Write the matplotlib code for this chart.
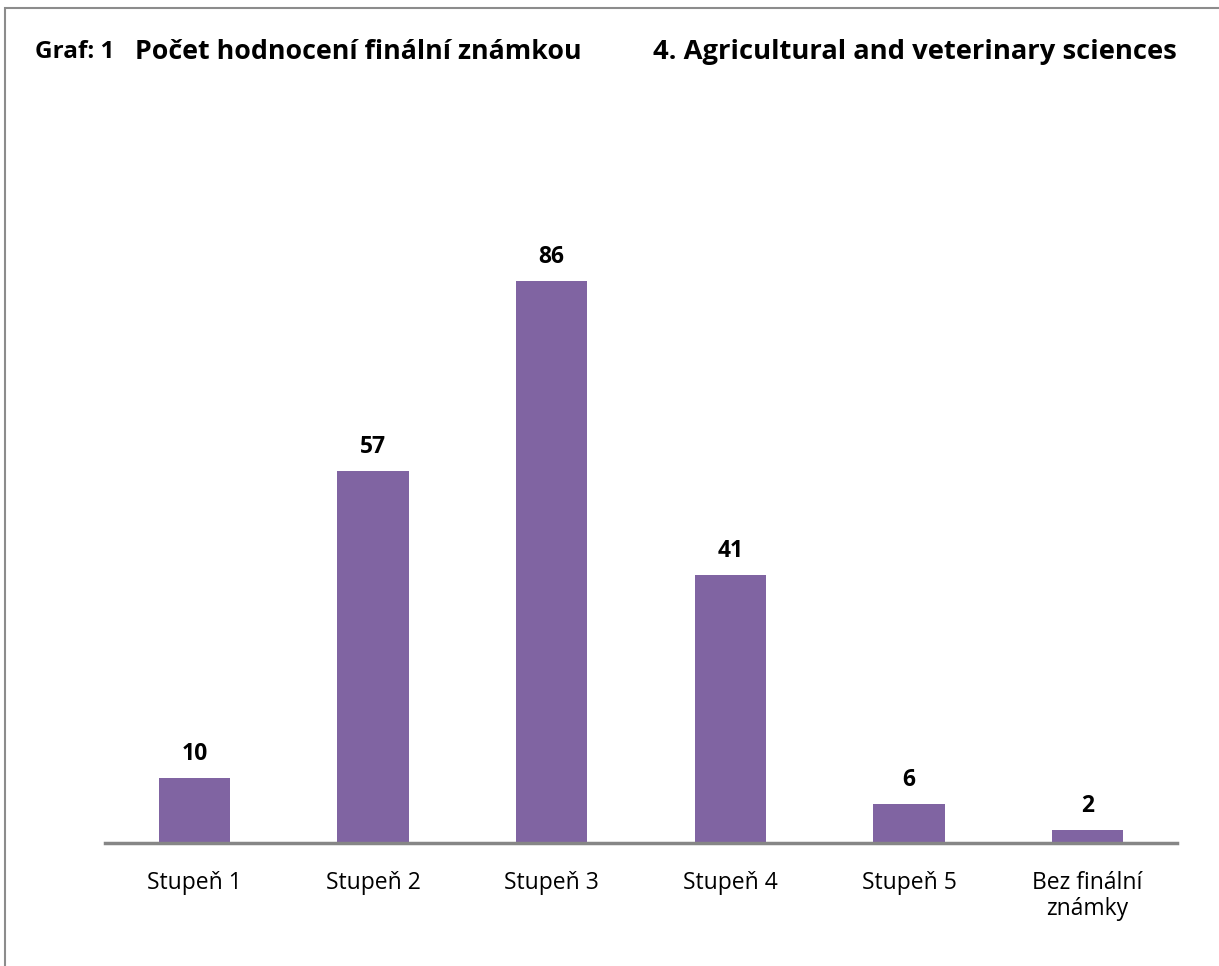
import matplotlib.pyplot as plt
from matplotlib.patches import Rectangle

plt.rcParams['font.family'] = ['Open Sans', 'DejaVu Sans']

# Data
kategorie = ['Stupeň 1', 'Stupeň 2', 'Stupeň 3', 'Stupeň 4', 'Stupeň 5', 'Bez finální\nznámky']
pocty = [10, 57, 86, 41, 6, 2]

W, H = 1219, 966
fig = plt.figure(figsize=(W / 100, H / 100), dpi=100)
ax = fig.add_axes([105 / W, 1 - 843 / H, (1177 - 105) / W, (843 - 189.5) / H])

x = range(len(kategorie))
bary = ax.bar(x, pocty, width=0.4, color='#8064A2')
ax.set_xlim(-0.5, len(kategorie) - 0.5)
ax.set_ylim(0, 100)

for b, v in zip(bary, pocty):
    ax.annotate(str(v), (b.get_x() + b.get_width() / 2, v), xytext=(0, 8.5),
                textcoords='offset points', ha='center', va='bottom',
                fontsize=16.5, fontweight='bold')

ax.set_xticks(list(x))
ax.set_xticklabels(kategorie, fontsize=16.5, linespacing=1.15)
ax.tick_params(axis='x', length=0, pad=20)
ax.set_yticks([])
for s in ['top', 'right', 'left']:
    ax.spines[s].set_visible(False)
ax.spines['bottom'].set_color('#868686')
ax.spines['bottom'].set_linewidth(2.5)

# Titulky
fig.text(35 / W, 1 - 52 / H, 'Graf: 1', fontsize=17.5, fontweight='bold', va='center')
fig.text(135 / W, 1 - 52 / H, 'Počet hodnocení finální známkou', fontsize=19.3, fontweight='bold', va='center')
fig.text(1177 / W, 1 - 52 / H, '4. Agricultural and veterinary sciences', fontsize=19.7, fontweight='bold',
         va='center', ha='right')

# Rámeček
fig.add_artist(Rectangle((5 / W, -0.05), 1.2, 1 - 8 / H + 0.05, transform=fig.transFigure,
                         fill=False, edgecolor='#8c8c8c', linewidth=1.5))

fig.savefig('out.png', dpi=100)
